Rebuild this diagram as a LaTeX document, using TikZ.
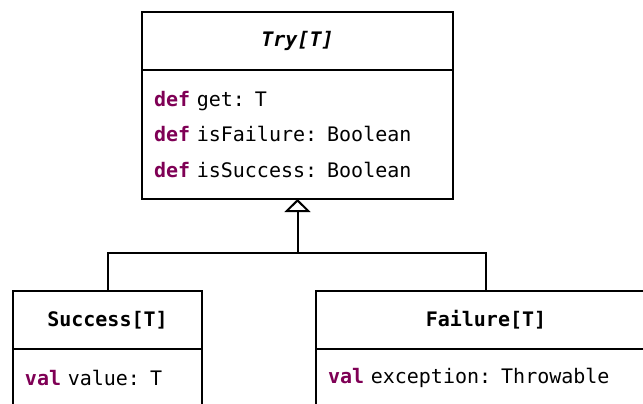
\documentclass[tikz,border=0pt]{standalone}
\usepackage{fontspec}
\setmonofont{DejaVu Sans Mono}
\usepackage{tikz}
\usetikzlibrary{positioning,arrows.meta}
\definecolor{keyword}{HTML}{7F0055}
\newcommand{\kw}[1]{{\color{keyword}\bfseries #1}}

\begin{document}
\begin{tikzpicture}[font=\ttfamily\fontsize{10}{17.75}\selectfont,line width=1pt,
  classhead/.style={draw,inner sep=0pt,outer sep=0pt,minimum height=29pt,font=\ttfamily\bfseries\fontsize{10}{17.75}\selectfont},
  classbody/.style={draw,inner xsep=6pt,inner ysep=0pt,outer sep=0pt,align=left,minimum height=29pt},
  inherit/.style={-{Triangle[open,width=13pt,length=6.5pt]}}]
\path[use as bounding box,clip] (0,0) rectangle (321.5pt,-201.5pt);
\node[classhead,minimum width=155.5pt] (tryhead) at (148.75pt,-20.5pt) {\textit{Try[T]}};
\node[classbody,text width=143.5pt,minimum height=64.5pt,below=0pt of tryhead] (trybody)
  {\kw{def} get: T\\\kw{def} isFailure: Boolean\\\kw{def} isSuccess: Boolean};
\node[classhead,minimum width=94.5pt] (successhead) at (53.75pt,-160pt) {Success[T]};
\node[classbody,text width=82.5pt,below=0pt of successhead] (successbody) {\kw{val} value: T};
\node[classhead,minimum width=170pt] (failurehead) at (243pt,-160pt) {Failure[T]};
\node[classbody,text width=158pt,below=0pt of failurehead] (failurebody) {\kw{val} exception: Throwable};
\coordinate (fork) at (148.75pt,-126.35pt);
\draw (successhead.north) |- (fork) -| (failurehead.north);
\draw[inherit] (fork) -- (trybody.south);
\end{tikzpicture}
\end{document}
